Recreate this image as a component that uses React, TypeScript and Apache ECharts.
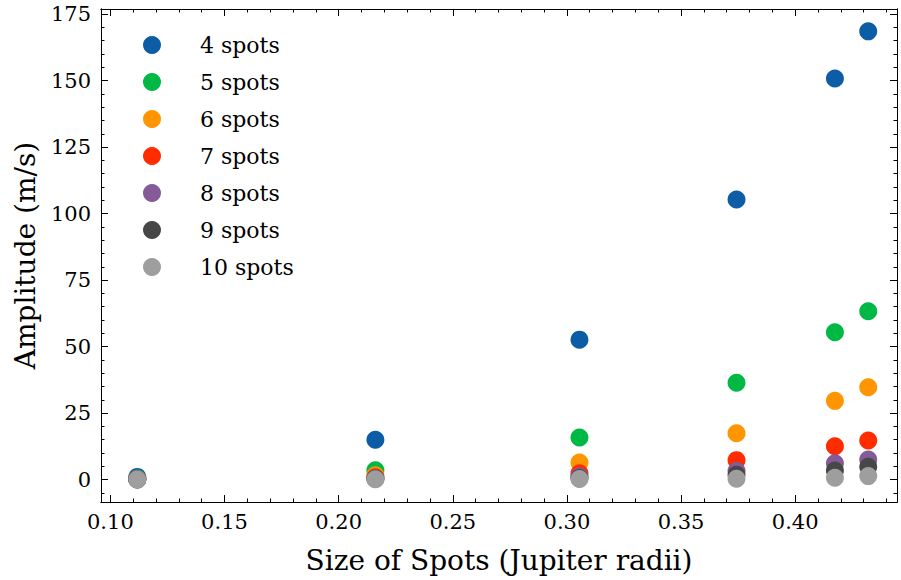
import React, { useEffect, useRef } from "react";
import * as echarts from "echarts";

// Spot sizes (Jupiter radii)
const spotSizes = [0.1118, 0.2161, 0.3055, 0.3743, 0.4174, 0.432];

// Amplitudes (m/s) per number of spots
const amp4 = [1.0, 15.0, 52.6, 105.3, 150.8, 168.5];
const amp5 = [0.4, 3.5, 15.8, 36.4, 55.4, 63.3];
const amp6 = [0.2, 1.6, 6.4, 17.4, 29.6, 34.7];
const amp7 = [0.1, 0.9, 2.4, 7.3, 12.5, 14.7];
const amp8 = [0.1, 0.5, 1.2, 3.2, 6.1, 7.5];
const amp9 = [0.05, 0.3, 0.6, 1.8, 3.4, 4.8];
const amp10 = [0.02, 0.1, 0.2, 0.3, 0.7, 1.3];

const seriesNames = ["4 spots", "5 spots", "6 spots", "7 spots", "8 spots", "9 spots", "10 spots"];
const seriesValues = [amp4, amp5, amp6, amp7, amp8, amp9, amp10];
const colors = ["#0C5DA5", "#00B945", "#FF9500", "#FF2C00", "#845B97", "#474747", "#9E9E9E"];

const xMajorTicks = [0.1, 0.15, 0.2, 0.25, 0.3, 0.35, 0.4];
const xMinorTicks = [
  0.1, 0.11, 0.12, 0.13, 0.14, 0.15, 0.16, 0.17, 0.18, 0.19, 0.2, 0.21, 0.22, 0.23, 0.24, 0.25, 0.26,
  0.27, 0.28, 0.29, 0.3, 0.31, 0.32, 0.33, 0.34, 0.35, 0.36, 0.37, 0.38, 0.39, 0.4, 0.41, 0.42, 0.43, 0.44,
];
const yMajorTicks = [0, 25, 50, 75, 100, 125, 150, 175];
const yMinorTicks = [
  -5, 0, 5, 10, 15, 20, 25, 30, 35, 40, 45, 50, 55, 60, 65, 70, 75, 80, 85, 90, 95, 100, 105, 110, 115,
  120, 125, 130, 135, 140, 145, 150, 155, 160, 165, 170, 175,
];

const X_MIN = 0.0959;
const X_MAX = 0.4446;
const Y_MIN = -8.43;
const Y_MAX = 176.9;

const FONT = "DejaVu Serif";

export default function App() {
  const ref = useRef<HTMLDivElement>(null);

  useEffect(() => {
    if (!ref.current) return;
    const chart = echarts.init(ref.current, undefined, { renderer: "svg" });

    const lineStyle = { color: "#000", width: 1 };

    const makeX = (position: string, ticks: number[], len: number, labels: boolean, name?: string) => ({
      type: "value",
      gridIndex: 0,
      position,
      min: X_MIN,
      max: X_MAX,
      name: name || "",
      nameLocation: "middle",
      nameGap: 44,
      nameTextStyle: { fontFamily: FONT, fontSize: 28, color: "#000" },
      axisLine: { show: true, onZero: false, lineStyle },
      axisTick: { show: true, inside: true, length: len, lineStyle, customValues: ticks },
      axisLabel: {
        show: labels,
        customValues: ticks,
        margin: 9,
        fontFamily: FONT,
        fontSize: 21,
        color: "#000",
        formatter: (v: number) => v.toFixed(2),
      },
      splitLine: { show: false },
      minorTick: { show: false },
    });

    const makeY = (position: string, ticks: number[], len: number, labels: boolean, name?: string) => ({
      type: "value",
      gridIndex: 0,
      position,
      min: Y_MIN,
      max: Y_MAX,
      name: name || "",
      nameLocation: "middle",
      nameGap: 62,
      nameTextStyle: { fontFamily: FONT, fontSize: 28, color: "#000" },
      axisLine: { show: true, onZero: false, lineStyle },
      axisTick: { show: true, inside: true, length: len, lineStyle, customValues: ticks },
      axisLabel: {
        show: labels,
        customValues: ticks,
        margin: 10,
        fontFamily: FONT,
        fontSize: 21,
        color: "#000",
        formatter: (v: number) => String(Math.round(v)),
      },
      splitLine: { show: false },
      minorTick: { show: false },
    });

    chart.setOption({
      animation: false,
      backgroundColor: "#fff",
      grid: { left: 101, right: 4, top: 9, bottom: 78, containLabel: false },
      legend: {
        orient: "vertical",
        left: 138,
        top: 29,
        itemWidth: 18,
        itemHeight: 18,
        itemGap: 15,
        icon: "circle",
        data: seriesNames,
        textStyle: { fontFamily: FONT, fontSize: 22, color: "#000", padding: [0, 0, 0, 34] },
      },
      xAxis: [
        makeX("bottom", xMajorTicks, 7, true, "Size of Spots (Jupiter radii)"),
        makeX("bottom", xMinorTicks, 3.5, false),
        makeX("top", xMajorTicks, 7, false),
        makeX("top", xMinorTicks, 3.5, false),
      ],
      yAxis: [
        makeY("left", yMajorTicks, 7, true, "Amplitude (m/s)"),
        makeY("left", yMinorTicks, 3.5, false),
        makeY("right", yMajorTicks, 7, false),
        makeY("right", yMinorTicks, 3.5, false),
      ],
      series: seriesNames.map((name, i) => ({
        name,
        type: "scatter",
        xAxisIndex: 0,
        yAxisIndex: 0,
        symbol: "circle",
        symbolSize: 18,
        itemStyle: { color: colors[i], opacity: 1 },
        data: spotSizes.map((x, j) => [x, seriesValues[i][j]]),
      })),
    });

    return () => chart.dispose();
  }, []);

  return (
    <div
      ref={ref}
      style={{ position: "absolute", left: 0, top: 0, width: 901, height: 580, background: "#fff" }}
    />
  );
}
